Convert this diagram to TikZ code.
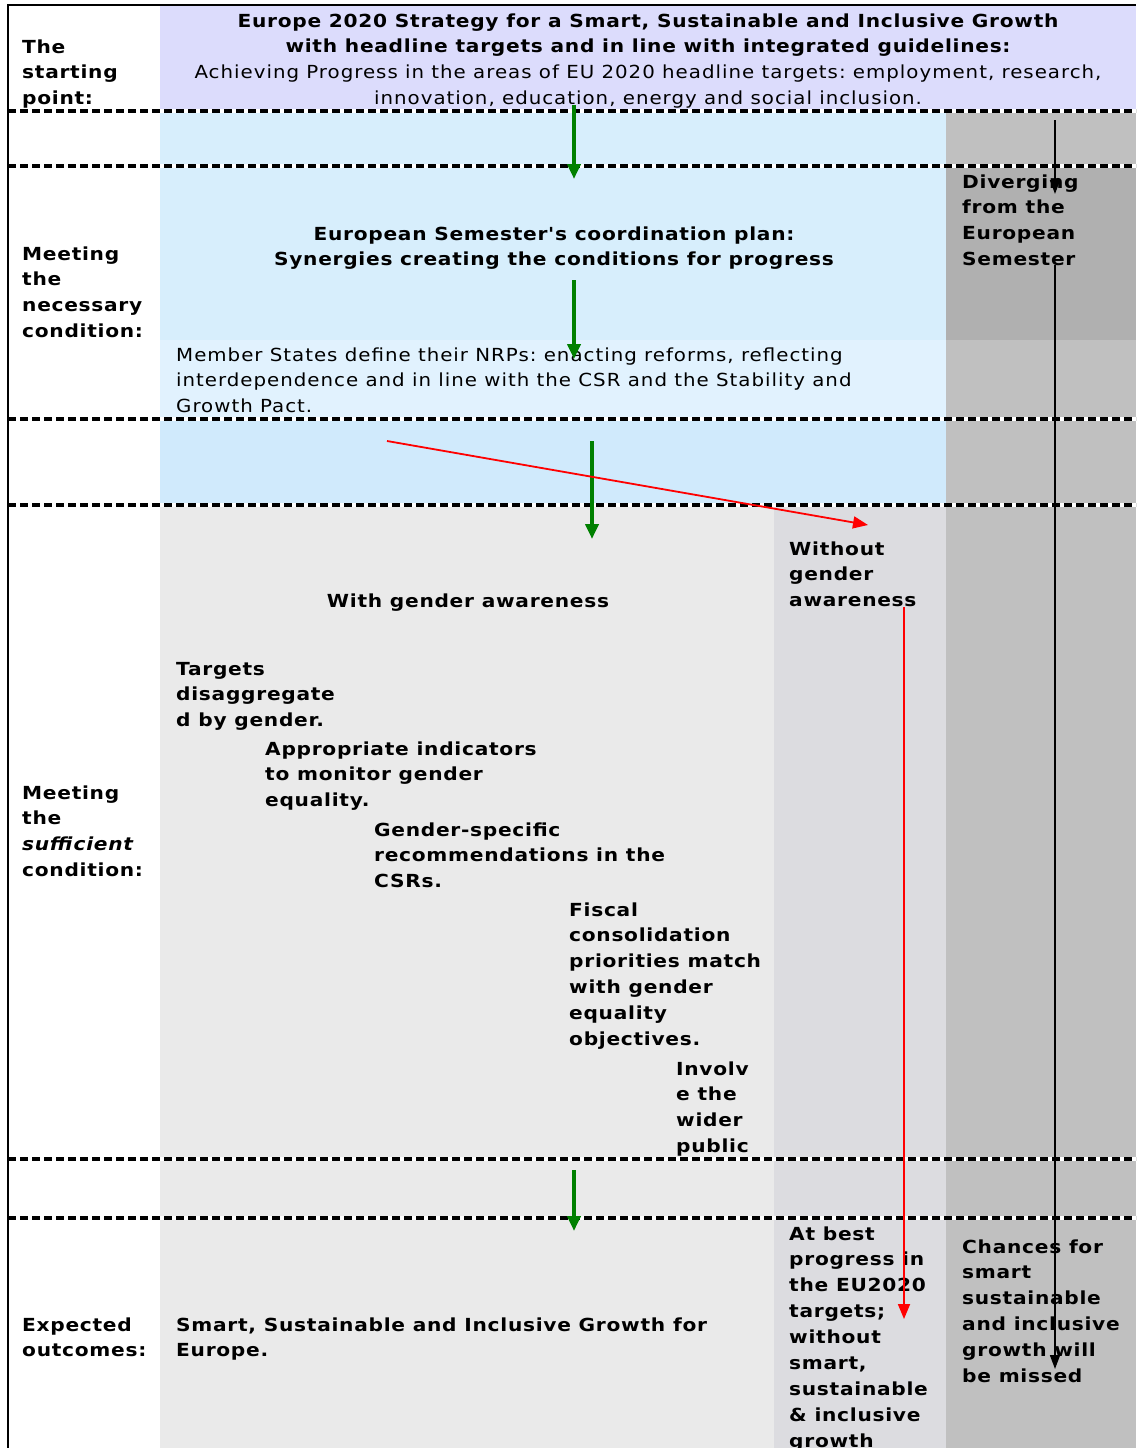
\documentclass[tikz,border=0pt]{standalone}
\usepackage{fontspec}
\setmainfont{DejaVu Sans}[Ligatures=TeXOff,FakeStretch=1.1,LetterSpace=5.5,BoldFeatures={FakeStretch=1.12,LetterSpace=4},BoldItalicFeatures={FakeStretch=1.12,LetterSpace=4}]
\usetikzlibrary{arrows.meta}
\definecolor{lav}{HTML}{DCDCFC}
\definecolor{blueA}{HTML}{D7EEFC}
\definecolor{blueB}{HTML}{E1F2FE}
\definecolor{blueC}{HTML}{D0EAFC}
\definecolor{greyA}{HTML}{C0C0C0}
\definecolor{greyB}{HTML}{B0B0B0}
\definecolor{greyL}{HTML}{EAEAEA}
\definecolor{greyM}{HTML}{DCDCE0}
\definecolor{arrgreen}{HTML}{008000}
\def\LS{25.9}
\begin{document}
\frenchspacing
\begin{tikzpicture}[x=1pt,y=-1pt,
  txt/.style={anchor=base west,inner sep=0pt,align=left,font=\fontsize{18}{25.9}\selectfont\bfseries},
  txtc/.style={anchor=base,inner sep=0pt,align=center,font=\fontsize{18}{25.9}\selectfont\bfseries},
  txtr/.style={anchor=base west,inner sep=0pt,align=left,font=\fontsize{18}{25.9}\selectfont},
  sep/.style={line width=3.5pt},
  greenarr/.style={draw=arrgreen,line width=4pt,-{Triangle[length=15pt,width=13pt]}},
  redarr/.style={draw=red,line width=1.8pt,-{Triangle[length=15pt,width=12pt]}},
  blackarr/.style={draw=black,line width=1.8pt,-{Triangle[length=14pt,width=10pt]}}]
\useasboundingbox (0,0) rectangle (1136,1448);
\fill[white] (0,0) rectangle (1136,1448);
% backgrounds
\fill[lav] (160,5) rectangle (1136,111);
\fill[blueA] (160,111) rectangle (946,340);
\fill[blueB] (160,340) rectangle (946,419);
\fill[blueC] (160,419) rectangle (946,505);
\fill[greyA] (946,111) rectangle (1136,166);
\fill[greyB] (946,166) rectangle (1136,340);
\fill[greyA] (946,340) rectangle (1136,505);
\fill[greyL] (160,505) rectangle (774,1448);
\fill[greyM] (774,505) rectangle (946,1448);
\fill[greyA] (946,505) rectangle (1136,1448);
% frame
\draw[line width=2.5pt] (8,5) -- (1136,5);
\draw[line width=2pt] (8,4) -- (8,1448);
% dashed separators
\foreach \yy in {111,166,419,505,1159,1218}{
  \draw[sep,white] (8,\yy) -- (1136,\yy);
  \draw[sep,black,dash pattern=on 8pt off 4pt] (8,\yy) -- (1136,\yy);
}
% texts (anchor = baseline of last line)
\node[txt] (start) at (22,{53+2*\LS}) {The\\starting\\point:};
\node[txtc] (head) at (648,{27+3*\LS}) {Europe 2020 Strategy for a Smart, Sustainable and Inclusive Growth\\with headline targets and in line with integrated guidelines:\\\mdseries Achieving Progress in the areas of EU 2020 headline targets: employment, research,\\\mdseries innovation, education, energy and social inclusion.};
\node[txt] (necess) at (22,{260+3*\LS}) {Meeting\\the\\necessary\\condition:};
\node[txtc] (semester) at (554,{240+\LS}) {European Semester's coordination plan:\\Synergies creating the conditions for progress};
\node[txtr] (nrp) at (176,{361+2*\LS}) {Member States define their NRPs: enacting reforms, reflecting\\interdependence and in line with the CSR and the Stability and\\Growth Pact.};
\node[txt] (diverg) at (962,{188+3*\LS}) {Diverging\\from the\\European\\Semester};
\node[txtc] (withg) at (468,607) {With gender awareness};
\node[txt] (withoutg) at (789,{555+2*\LS}) {Without\\gender\\awareness};
\node[txt] (targets) at (176,{675+2*\LS}) {Targets\\disaggregate\\d by gender.};
\node[txt] (indic) at (265,{755+2*\LS}) {Appropriate indicators\\to monitor gender\\equality.};
\node[txt] (csr) at (374,{836+2*\LS}) {Gender-specific\\recommendations in the\\CSRs.};
\node[txt] (fiscal) at (569,{916+5*\LS}) {Fiscal\\consolidation\\priorities match\\with gender\\equality\\objectives.};
\node[txt] (involve) at (676,{1075+3*\LS}) {Involv\\e the\\wider\\public};
\node[txt] (suff) at (22,{799+3*\LS}) {Meeting\\the\\\textit{sufficient}\\condition:};
\node[txt] (expected) at (22,{1331+\LS}) {Expected\\outcomes:};
\node[txt] (smart) at (176,{1331+\LS}) {Smart, Sustainable and Inclusive Growth for\\Europe.};
\node[txt] (atbest) at (789,{1240+8*\LS}) {At best\\progress in\\the EU2020\\targets;\\without\\smart,\\sustainable\\\& inclusive\\growth};
\node[txt] (chances) at (962,{1253+5*\LS}) {Chances for\\smart\\sustainable\\and inclusive\\growth will\\be missed};
% arrow coordinates
\coordinate (g1s) at (574,105); \coordinate (g1e) at (574,179);
\coordinate (g2s) at (574,280); \coordinate (g2e) at (574,359);
\coordinate (g3s) at (592,441); \coordinate (g3e) at (592,539);
\coordinate (g4s) at (574,1170); \coordinate (g4e) at (574,1231);
\coordinate (r1s) at (387,441); \coordinate (r1e) at (868,525);
\coordinate (r2s) at (904,607); \coordinate (r2e) at (904,1319);
\coordinate (b1s) at (1055,120); \coordinate (b1e) at (1055,194);
\coordinate (b2s) at (1055,265); \coordinate (b2e) at (1055,1369);
\draw[greenarr] (g1s) -- (g1e);
\draw[greenarr] (g2s) -- (g2e);
\draw[greenarr] (g3s) -- (g3e);
\draw[greenarr] (g4s) -- (g4e);
\draw[redarr] (r1s) -- (r1e);
\draw[redarr] (r2s) -- (r2e);
\draw[blackarr] (b1s) -- (b1e);
\draw[blackarr] (b2s) -- (b2e);
\end{tikzpicture}
\end{document}
